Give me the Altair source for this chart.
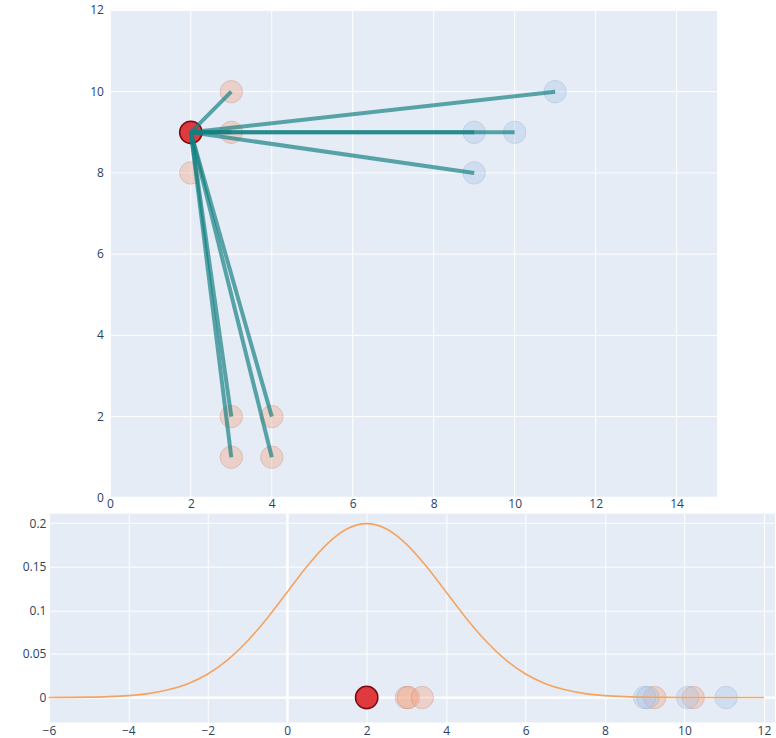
import altair as alt
import pandas as pd

# ---- upper panel: points in the plane ----
near_x = [3, 3, 2, 3, 4, 3, 4]
near_y = [10, 9, 8, 2, 2, 1, 1]
far_x = [9, 10, 11, 9]
far_y = [9, 9, 10, 8]
anchor_x = [2]
anchor_y = [9]
# segments drawn from the anchor to these points
link_x = [3, 3, 9, 10, 11, 9, 3, 4, 3, 4]
link_y = [10, 9, 9, 9, 10, 8, 2, 2, 1, 1]

top_x_range = [0, 15]
top_y_range = [0, 12]
top_x_ticks = [0, 2, 4, 6, 8, 10, 12, 14]
top_y_ticks = [0, 2, 4, 6, 8, 10, 12]

# ---- lower panel: 1-D positions and density curve ----
proj_anchor = [2.0]
proj_near = [3.0, 3.05, 3.4, 9.25, 10.22]
proj_far = [9.0, 9.08, 10.08, 11.05]
curve_x = [-6, -5.5, -5, -4.5, -4, -3.5, -3, -2.5, -2, -1.5, -1, -0.5, 0, 0.5,
           1, 1.5, 2, 2.5, 3, 3.5, 4, 4.5, 5, 5.5, 6, 6.5, 7, 7.5, 8, 8.5,
           9, 9.5, 10, 10.5, 11, 11.5, 12]
curve_y = [0.0001, 0.0002, 0.0004, 0.001, 0.0022, 0.0045, 0.0088, 0.0159,
           0.027, 0.0432, 0.0648, 0.0913, 0.121, 0.1506, 0.176, 0.1933,
           0.1995, 0.1933, 0.176, 0.1506, 0.121, 0.0913, 0.0648, 0.0432,
           0.027, 0.0159, 0.0088, 0.0045, 0.0022, 0.001, 0.0004, 0.0002,
           0.0001, 0.00003, 0.00001, 0.0, 0.0]
bot_x_ticks = [-6, -4, -2, 0, 2, 4, 6, 8, 10, 12]
bot_y_ticks = [0, 0.05, 0.1, 0.15, 0.2]

BG = "#E5ECF6"
INK = "#2a3f5f"
SALMON = "#F4A582"
SALMON_EDGE = "#c8705a"
BLUE = "#A9C4E5"
BLUE_EDGE = "#7f9cc4"
RED = "#E0393E"
RED_EDGE = "#7a0c10"
TEAL = "#127f80"
CURVE = "#F4A460"
DOT = 500
FONT = "Open Sans"


def axis(values, pad, extent, fmt=None, grid=True):
    kw = dict(values=values, title=None, grid=grid, gridColor="white",
              gridWidth=1, ticks=False, domain=False, labelFlush=False,
              labelOverlap=False, labelPadding=pad,
              minExtent=extent, maxExtent=extent)
    if fmt:
        kw["format"] = fmt
    return alt.Axis(**kw)


# upper panel: the scale reaches left of 0 so that the panel sits further
# right than the lower one; its own background starts at x = 0
tx = alt.X("x:Q", scale=alt.Scale(domain=[-1.505, 15], nice=False, zero=False),
           axis=axis(top_x_ticks, 1, 14, grid=False))
ty = alt.Y("y:Q", scale=alt.Scale(domain=top_y_range, nice=False, zero=False),
           axis=None)

n_y = len(top_y_ticks) - 1
n_x = len(top_x_ticks) - 1
panel_df = pd.DataFrame({"x": [top_x_range[0]], "x2": [top_x_range[1]],
                         "y": [top_y_range[0]], "y2": [top_y_range[1]]})
hgrid_df = pd.DataFrame({"y": top_y_ticks[1:],
                         "x": [top_x_range[0]] * n_y,
                         "x2": [top_x_range[1]] * n_y})
vgrid_df = pd.DataFrame({"x": top_x_ticks[1:],
                         "y": [top_y_range[0]] * n_x,
                         "y2": [top_y_range[1]] * n_x})
ylab_df = pd.DataFrame({"y": top_y_ticks, "x": [0] * len(top_y_ticks),
                        "lab": [str(v) for v in top_y_ticks]})
near_df = pd.DataFrame({"x": near_x, "y": near_y})
far_df = pd.DataFrame({"x": far_x, "y": far_y})
anchor_df = pd.DataFrame({"x": anchor_x, "y": anchor_y})
link_df = pd.DataFrame({"x": anchor_x * len(link_x), "y": anchor_y * len(link_y),
                        "x2": link_x, "y2": link_y})

panel = alt.Chart(panel_df).mark_rect(color=BG).encode(
    x=tx, x2="x2:Q", y=ty, y2="y2:Q")
hgrid = alt.Chart(hgrid_df).mark_rule(color="white", strokeWidth=1).encode(
    x=tx, x2="x2:Q", y=ty)
vgrid = alt.Chart(vgrid_df).mark_rule(color="white", strokeWidth=1).encode(
    x=tx, y=ty, y2="y2:Q")
zero_v = alt.Chart(pd.DataFrame({"x": [0]})).mark_rule(
    color="white", strokeWidth=2).encode(x=tx)
zero_h = alt.Chart(pd.DataFrame({"y": [0], "x": [0], "x2": [15]})).mark_rule(
    color="white", strokeWidth=2).encode(x=tx, x2="x2:Q", y=ty)
ylabels = alt.Chart(ylab_df).mark_text(
    align="right", baseline="middle", dx=-6, font=FONT, fontSize=12, color=INK
).encode(x=tx, y=ty, text="lab:N")
near_pts = alt.Chart(near_df).mark_circle(
    size=DOT, color=SALMON, opacity=0.38, stroke=SALMON_EDGE, strokeWidth=1
).encode(x=tx, y=ty)
far_pts = alt.Chart(far_df).mark_circle(
    size=DOT, color=BLUE, opacity=0.35, stroke=BLUE_EDGE, strokeWidth=1
).encode(x=tx, y=ty)
anchor_pt = alt.Chart(anchor_df).mark_circle(
    size=DOT, color=RED, opacity=1, stroke=RED_EDGE, strokeWidth=1.5
).encode(x=tx, y=ty)
links = alt.Chart(link_df).mark_rule(
    color=TEAL, strokeWidth=4, opacity=0.68
).encode(x=tx, y=ty, x2="x2:Q", y2="y2:Q")

upper = alt.layer(panel, hgrid, vgrid, zero_v, zero_h, ylabels, near_pts,
                  far_pts, anchor_pt, links).properties(
    width=669, height=488, view=alt.ViewBackground(fill=None, stroke=None))

# lower panel
bx = alt.X("px:Q", scale=alt.Scale(domain=[-6, 12.28], nice=False, zero=False),
           axis=axis(bot_x_ticks, 3, 16))
by = alt.Y("py:Q", scale=alt.Scale(domain=[-0.0287, 0.2107], nice=False, zero=False),
           axis=axis(bot_y_ticks, 3, 28, fmt="~g"))

curve_df = pd.DataFrame({"px": curve_x, "py": curve_y})
p_near = pd.DataFrame({"px": proj_near, "py": [0.0] * len(proj_near)})
p_far = pd.DataFrame({"px": proj_far, "py": [0.0] * len(proj_far)})
p_anchor = pd.DataFrame({"px": proj_anchor, "py": [0.0]})

bzero_v = alt.Chart(pd.DataFrame({"px": [0]})).mark_rule(
    color="white", strokeWidth=2).encode(x=bx)
bzero_h = alt.Chart(pd.DataFrame({"py": [0]})).mark_rule(
    color="white", strokeWidth=2).encode(y=by)
b_near = alt.Chart(p_near).mark_circle(
    size=DOT, color=SALMON, opacity=0.38, stroke=SALMON_EDGE, strokeWidth=1
).encode(x=bx, y=by)
b_far = alt.Chart(p_far).mark_circle(
    size=DOT, color=BLUE, opacity=0.35, stroke=BLUE_EDGE, strokeWidth=1
).encode(x=bx, y=by)
b_anchor = alt.Chart(p_anchor).mark_circle(
    size=DOT, color=RED, opacity=1, stroke=RED_EDGE, strokeWidth=1.5
).encode(x=bx, y=by)
density = alt.Chart(curve_df).mark_line(
    color=CURVE, strokeWidth=1.6, interpolate="monotone"
).encode(x=bx, y=by)

lower = alt.layer(bzero_v, bzero_h, b_near, b_far, b_anchor, density).properties(
    width=727, height=209, view=alt.ViewBackground(fill=BG, stroke=None))

chart = alt.vconcat(upper, lower, spacing=1).resolve_scale(
    x="independent", y="independent"
).properties(
    padding={"left": 21, "top": 4, "right": 0, "bottom": 0},
    background="white",
).configure_axis(
    labelFont=FONT, labelFontSize=12, labelColor=INK
)

chart.save("out.html", embed_options={"renderer": "svg", "actions": False})
